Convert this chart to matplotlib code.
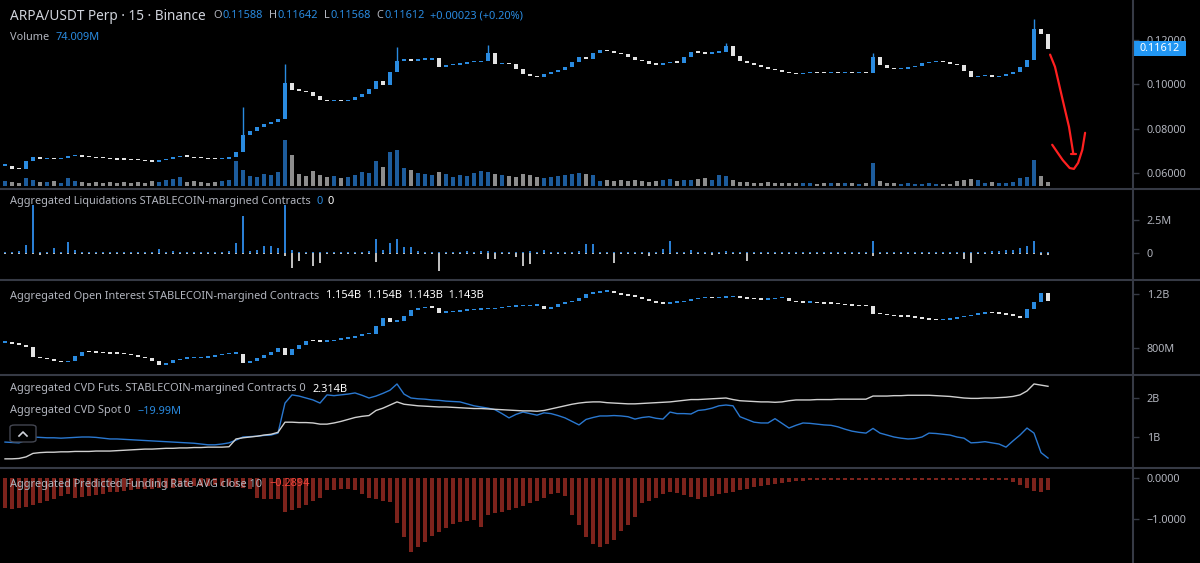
import matplotlib
matplotlib.use("Agg")
import matplotlib.pyplot as plt
import matplotlib.transforms as mtransforms
from matplotlib.patches import FancyBboxPatch, Rectangle
from matplotlib.lines import Line2D
import numpy as np

plt.rcParams['font.family'] = ['Noto Sans', 'DejaVu Sans']

# ---- data, one entry per bar ----
close = [
    0.0633, 0.0618, 0.0616, 0.0653, 0.0671, 0.0663, 0.0665, 0.0663, 0.0668, 0.0675,
    0.0681, 0.0673, 0.0671, 0.0668, 0.0665, 0.0661, 0.0660, 0.0659, 0.0658, 0.0656,
    0.0653, 0.0651, 0.0658, 0.0663, 0.0671, 0.0675, 0.0673, 0.0668, 0.0667, 0.0663,
    0.0661, 0.0663, 0.0673, 0.0693, 0.0773, 0.0788, 0.0808, 0.0823, 0.0831, 0.0843,
    0.1006, 0.0976, 0.0971, 0.0966, 0.0946, 0.0929, 0.0923, 0.0926, 0.0923, 0.0931,
    0.0943, 0.0956, 0.0981, 0.1016, 0.0996, 0.1056, 0.1106, 0.1116, 0.1106, 0.1111,
    0.1111, 0.1119, 0.1079, 0.1086, 0.1089, 0.1093, 0.1099, 0.1101, 0.1106, 0.1141,
    0.1091, 0.1096, 0.1091, 0.1071, 0.1046, 0.1036, 0.1031, 0.1046, 0.1056, 0.1066,
    0.1079, 0.1101, 0.1121, 0.1116, 0.1141, 0.1156, 0.1151, 0.1143, 0.1136, 0.1121,
    0.1111, 0.1103, 0.1093, 0.1089, 0.1096, 0.1101, 0.1097, 0.1121, 0.1146, 0.1143,
    0.1139, 0.1143, 0.1146, 0.1171, 0.1126, 0.1106, 0.1096, 0.1086, 0.1079, 0.1069,
    0.1063, 0.1056, 0.1049, 0.1046, 0.1051, 0.1053, 0.1051, 0.1049, 0.1053, 0.1051,
    0.1053, 0.1051, 0.1053, 0.1051, 0.1121, 0.1086, 0.1073, 0.1069, 0.1071, 0.1076,
    0.1081, 0.1096, 0.1099, 0.1101, 0.1099, 0.1093, 0.1086, 0.1061, 0.1031, 0.1036,
    0.1041, 0.1033, 0.1039, 0.1046, 0.1056, 0.1076, 0.1111, 0.1250, 0.1225, 0.1161,
]
spike_bar = [34, 40, 56, 69, 103, 124, 147]
spike_high = [0.0899, 0.1093, 0.1170, 0.1179, 0.1188, 0.1143, 0.1296]

volume = [  # millions
    90, 70, 60, 150, 120, 80, 70, 90, 60, 140,
    100, 70, 60, 80, 60, 70, 60, 80, 60, 70,
    60, 90, 70, 110, 130, 170, 80, 90, 70, 60,
    80, 90, 110, 460, 300, 180, 170, 230, 200, 260,
    850, 570, 230, 190, 280, 200, 160, 180, 150, 170,
    200, 260, 240, 460, 350, 630, 670, 340, 300, 240,
    220, 200, 260, 220, 170, 200, 180, 240, 280, 260,
    230, 200, 180, 170, 230, 210, 160, 150, 170, 180,
    200, 220, 240, 220, 200, 100, 120, 90, 110, 100,
    120, 90, 80, 100, 110, 130, 90, 110, 120, 130,
    150, 110, 200, 180, 120, 80, 70, 60, 60, 70,
    50, 60, 50, 55, 60, 50, 45, 55, 50, 60,
    55, 50, 45, 60, 430, 90, 60, 50, 45, 50,
    40, 45, 50, 45, 40, 45, 100, 120, 130, 110,
    60, 70, 55, 60, 75, 150, 160, 480, 190, 74,
]

liq_long = [  # millions
    0.08, 0.08, 0.17, 0.6, 3.65, 0.08, 0.04, 0.38, 0.08, 0.85,
    0.26, 0.04, 0.08, 0.04, 0.08, 0.04, 0.04, 0.08, 0.04, 0.04,
    0.08, 0.04, 0.3, 0.08, 0.17, 0.08, 0.04, 0.08, 0.04, 0.04,
    0.08, 0.04, 0.17, 0.77, 2.8, 0.17, 0.26, 0.51, 0.51, 0.34,
    3.65, 0.26, 0.08, 0.04, 0.08, 0.04, 0.08, 0.04, 0.08, 0.08,
    0.04, 0.08, 0.17, 1.06, 0.26, 0.77, 1.06, 0.43, 0.43, 0.17,
    0.08, 0.08, 0.04, 0.08, 0.08, 0.08, 0.17, 0.08, 0.17, 0.17,
    0.08, 0.04, 0.08, 0.04, 0.08, 0.13, 0.08, 0.26, 0.08, 0.08,
    0.08, 0.08, 0.17, 0.68, 0.68, 0.08, 0.04, 0.08, 0.08, 0.04,
    0.08, 0.08, 0.04, 0.08, 0.3, 0.9, 0.08, 0.08, 0.26, 0.08,
    0.04, 0.08, 0.08, 0.17, 0.08, 0.04, 0.04, 0.08, 0.04, 0.04,
    0.08, 0.04, 0.08, 0.04, 0.08, 0.04, 0.08, 0.04, 0.08, 0.04,
    0.08, 0.04, 0.08, 0.04, 0.9, 0.04, 0.04, 0.08, 0.04, 0.04,
    0.08, 0.04, 0.08, 0.04, 0.04, 0.08, 0.04, 0.04, 0.08, 0.04,
    0.08, 0.13, 0.17, 0.26, 0.26, 0.34, 0.51, 0.9, 0.08, 0.04,
]
liq_short = [  # millions, drawn below zero
    0.04, 0.08, 0.04, 0.04, 0.08, 0.17, 0.04, 0.04, 0.08, 0.04,
    0.04, 0.08, 0.04, 0.04, 0.04, 0.08, 0.04, 0.04, 0.04, 0.04,
    0.08, 0.04, 0.04, 0.08, 0.04, 0.04, 0.04, 0.08, 0.04, 0.04,
    0.04, 0.08, 0.04, 0.08, 0.04, 0.04, 0.08, 0.04, 0.04, 0.08,
    0.26, 1.15, 0.6, 0.08, 1.02, 0.77, 0.08, 0.04, 0.08, 0.04,
    0.08, 0.04, 0.08, 0.68, 0.08, 0.04, 0.08, 0.04, 0.08, 0.04,
    0.08, 0.04, 1.36, 0.08, 0.04, 0.08, 0.04, 0.08, 0.08, 0.43,
    0.43, 0.08, 0.04, 0.34, 1.02, 0.85, 0.08, 0.04, 0.08, 0.04,
    0.08, 0.04, 0.08, 0.04, 0.08, 0.04, 0.08, 0.77, 0.08, 0.04,
    0.08, 0.04, 0.26, 0.04, 0.08, 0.04, 0.08, 0.04, 0.08, 0.04,
    0.08, 0.17, 0.04, 0.08, 0.04, 0.08, 0.6, 0.04, 0.08, 0.04,
    0.08, 0.04, 0.08, 0.04, 0.08, 0.04, 0.08, 0.04, 0.08, 0.04,
    0.08, 0.04, 0.08, 0.04, 0.26, 0.04, 0.08, 0.04, 0.08, 0.04,
    0.08, 0.04, 0.08, 0.04, 0.08, 0.04, 0.08, 0.43, 0.77, 0.08,
    0.04, 0.08, 0.04, 0.08, 0.04, 0.08, 0.04, 0.08, 0.17, 0.17,
]

oi = [  # millions
    837, 830, 822, 807, 735, 725, 715, 705, 695, 700,
    740, 770, 768, 765, 762, 758, 756, 752, 745, 735,
    725, 700, 675, 690, 710, 720, 722, 725, 726, 735,
    745, 752, 756, 758, 685, 700, 725, 745, 770, 800,
    750, 790, 820, 855, 850, 845, 850, 860, 868, 875,
    885, 900, 905, 960, 1020, 995, 1000, 1040, 1080, 1095,
    1100, 1098, 1062, 1065, 1070, 1075, 1080, 1082, 1085, 1088,
    1095, 1100, 1105, 1108, 1108, 1112, 1112, 1090, 1105, 1125,
    1140, 1150, 1170, 1200, 1210, 1215, 1218, 1210, 1195, 1185,
    1178, 1165, 1150, 1135, 1128, 1135, 1140, 1150, 1160, 1168,
    1172, 1170, 1172, 1176, 1180, 1172, 1165, 1160, 1156, 1162,
    1168, 1170, 1150, 1138, 1135, 1135, 1130, 1128, 1126, 1122,
    1118, 1112, 1110, 1108, 1055, 1048, 1042, 1036, 1032, 1030,
    1025, 1015, 1008, 1006, 1010, 1018, 1028, 1035, 1045, 1055,
    1060, 1058, 1052, 1046, 1038, 1022, 1090, 1140, 1205, 1150,
]

cvd_futs = [  # billions
    0.44, 0.44, 0.45, 0.49, 0.58, 0.60, 0.61, 0.61, 0.62, 0.62,
    0.63, 0.63, 0.63, 0.64, 0.64, 0.64, 0.65, 0.66, 0.67, 0.68,
    0.69, 0.69, 0.70, 0.71, 0.71, 0.72, 0.72, 0.73, 0.73, 0.74,
    0.74, 0.74, 0.75, 0.95, 0.98, 1.00, 1.02, 1.05, 1.07, 1.12,
    1.38, 1.38, 1.37, 1.37, 1.36, 1.33, 1.33, 1.36, 1.40, 1.45,
    1.50, 1.53, 1.55, 1.68, 1.74, 1.82, 1.90, 1.84, 1.82, 1.80,
    1.79, 1.78, 1.77, 1.77, 1.76, 1.75, 1.74, 1.73, 1.73, 1.72,
    1.71, 1.70, 1.69, 1.68, 1.67, 1.67, 1.66, 1.68, 1.72, 1.76,
    1.80, 1.84, 1.87, 1.89, 1.90, 1.90, 1.88, 1.87, 1.86, 1.85,
    1.85, 1.86, 1.87, 1.88, 1.89, 1.90, 1.92, 1.94, 1.96, 1.96,
    1.97, 1.98, 1.99, 2.00, 1.96, 1.93, 1.92, 1.91, 1.90, 1.90,
    1.89, 1.90, 1.93, 1.95, 1.95, 1.95, 1.96, 1.96, 1.96, 1.97,
    1.97, 1.97, 1.97, 1.97, 2.05, 2.05, 2.05, 2.06, 2.06, 2.07,
    2.07, 2.07, 2.07, 2.06, 2.05, 2.04, 2.02, 2.00, 1.99, 1.99,
    2.00, 2.00, 2.01, 2.02, 2.04, 2.08, 2.18, 2.36, 2.33, 2.30,
]
cvd_spot = [  # position on the pane scale
    0.87, 0.86, 0.85, 0.92, 1.00, 0.99, 0.98, 0.98, 0.97, 0.98,
    0.99, 1.00, 1.00, 0.99, 0.97, 0.95, 0.95, 0.94, 0.93, 0.92,
    0.91, 0.90, 0.89, 0.88, 0.87, 0.86, 0.85, 0.84, 0.82, 0.80,
    0.80, 0.82, 0.85, 0.92, 1.00, 1.01, 1.02, 1.04, 1.05, 1.10,
    1.87, 2.08, 2.05, 2.00, 1.95, 1.87, 2.08, 2.06, 2.08, 2.10,
    2.13, 2.07, 2.00, 2.05, 2.12, 2.20, 2.36, 2.10, 2.00, 1.98,
    1.97, 1.95, 1.94, 1.92, 1.91, 1.90, 1.85, 1.80, 1.77, 1.74,
    1.70, 1.60, 1.49, 1.58, 1.64, 1.60, 1.56, 1.62, 1.60, 1.55,
    1.49, 1.40, 1.31, 1.45, 1.50, 1.54, 1.54, 1.55, 1.54, 1.52,
    1.46, 1.50, 1.52, 1.48, 1.46, 1.64, 1.60, 1.60, 1.59, 1.68,
    1.70, 1.74, 1.80, 1.82, 1.80, 1.52, 1.45, 1.38, 1.36, 1.36,
    1.47, 1.35, 1.23, 1.30, 1.36, 1.35, 1.33, 1.31, 1.30, 1.26,
    1.20, 1.15, 1.12, 1.10, 1.22, 1.10, 1.05, 1.00, 0.97, 0.95,
    0.96, 1.00, 1.10, 1.09, 1.07, 1.05, 1.00, 0.97, 0.85, 0.86,
    0.88, 0.85, 0.82, 0.74, 0.90, 1.05, 1.23, 1.10, 0.60, 0.46,
]

funding = [
    -0.73, -0.76, -0.74, -0.70, -0.65, -0.61, -0.56, -0.50, -0.44, -0.38,
    -0.49, -0.46, -0.43, -0.41, -0.38, -0.35, -0.33, -0.31, -0.29, -0.28,
    -0.27, -0.26, -0.25, -0.24, -0.24, -0.22, -0.21, -0.20, -0.19, -0.19,
    -0.18, -0.19, -0.20, -0.22, -0.24, -0.26, -0.49, -0.50, -0.50, -0.51,
    -0.83, -0.78, -0.72, -0.66, -0.55, -0.48, -0.30, -0.29, -0.28, -0.28,
    -0.29, -0.38, -0.48, -0.52, -0.55, -0.58, -1.10, -1.45, -1.80, -1.68,
    -1.55, -1.42, -1.32, -1.22, -1.12, -1.07, -1.05, -1.02, -1.20, -0.90,
    -0.86, -0.82, -0.78, -0.73, -0.68, -0.62, -0.55, -0.48, -0.40, -0.37,
    -0.45, -0.90, -1.15, -1.45, -1.62, -1.68, -1.60, -1.50, -1.30, -1.15,
    -0.95, -0.62, -0.55, -0.48, -0.40, -0.34, -0.37, -0.41, -0.46, -0.50,
    -0.47, -0.43, -0.40, -0.37, -0.33, -0.29, -0.26, -0.23, -0.20, -0.16,
    -0.14, -0.12, -0.10, -0.08, -0.07, -0.05, -0.05, -0.06, -0.05, -0.05,
    -0.04, -0.05, -0.05, -0.06, -0.05, -0.05, -0.04, -0.05, -0.05, -0.06,
    -0.05, -0.05, -0.04, -0.05, -0.05, -0.05, -0.06, -0.05, -0.05, -0.04,
    -0.05, -0.05, -0.05, -0.06, -0.10, -0.16, -0.24, -0.32, -0.34, -0.29,
]

# hand drawn red arrow (bar position, price)
arrow_x = [149.3, 150.0, 151.1, 152.0, 152.6]
arrow_p = [0.1134, 0.1079, 0.0929, 0.0808, 0.0690]
arrow_tip_x = [152.3, 153.0]
arrow_tip_p = [0.0686, 0.0686]
hook_x = [149.6, 150.4, 151.1, 152.1, 152.7, 153.3, 153.9, 154.3]
hook_p = [0.0727, 0.0690, 0.0658, 0.0622, 0.0618, 0.0645, 0.0704, 0.0781]

last_price = 0.11612

# ---- styling ----
W, H = 1200, 563
AXR = 1133
LINE = "#363a45"
TXT = "#b2b5be"
BLUE = "#2a8be0"
WHITE = "#e3e3e3"

fig = plt.figure(figsize=(W / 100, H / 100), dpi=100, facecolor="black")
x = np.arange(len(close))
XLIM = (-5 / 7, (AXR - 5) / 7)


def pane(top, bottom, ylim, ticks, labels):
    ax = fig.add_axes([0, 1 - bottom / H, AXR / W, (bottom - top) / H])
    ax.set_facecolor("none")
    ax.set_xlim(*XLIM)
    ax.set_ylim(*ylim)
    for s in ax.spines.values():
        s.set_visible(False)
    ax.set_xticks([])
    ax.yaxis.tick_right()
    ax.tick_params(axis="y", length=4, width=1, color=LINE, labelcolor=TXT,
                   labelsize=7.8, pad=6)
    ax.set_yticks(ticks)
    ax.set_yticklabels(labels)
    return ax


def candles(ax, vals, minh, width):
    c = np.array(vals, dtype=float)
    o = np.r_[c[0], c[:-1]]
    up = c >= o
    lo = np.minimum(o, c)
    h = np.maximum(np.abs(c - o), minh)
    ax.bar(x, h, bottom=lo, width=width, color=np.where(up, BLUE, WHITE),
           linewidth=0, zorder=3)
    return up, lo + h


# volume sits behind the price candles
axv = fig.add_axes([0, 1 - 186 / H, AXR / W, 186 / H])
axv.set_facecolor("none")
axv.axis("off")
axv.set_xlim(*XLIM)
axv.set_ylim(0, 18.5 * 186)

ax = pane(0, 188, (0.05318, 0.13806), [0.06, 0.08, 0.10, 0.12],
          ["0.06000", "0.08000", "0.10000", "0.12000"])
up, top = candles(ax, close, 0.0006, 0.7)
axv.bar(x, volume, width=0.45, color=np.where(up, "#1d5c9c", "#8d8d8d"), linewidth=0)
for b, hh in zip(spike_bar, spike_high):
    ax.vlines(b, top[b], hh, color=BLUE if up[b] else WHITE, lw=1, zorder=3)
red = dict(color="#ff2020", lw=1.6, zorder=5, solid_capstyle="round")
ax.plot(arrow_x, arrow_p, **red)
ax.plot(arrow_tip_x, arrow_tip_p, **red)
ax.plot(hook_x, hook_p, **red)

# last price tag on the scale
blend = mtransforms.blended_transform_factory(ax.transAxes, ax.transData)
tag_h = 15 / 188 * (0.13806 - 0.05318)
ax.add_patch(Rectangle((1.0, last_price - tag_h / 2), 53 / AXR, tag_h, transform=blend,
                       fc="#2196f3", ec="none", clip_on=False, zorder=10))
ax.text(1.0 + 26.5 / AXR, last_price, f"{last_price:.5f}", transform=blend, ha="center",
        va="center", color="white", fontsize=7.8, zorder=11, clip_on=False)

axl = pane(190, 279, (-1.97, 4.77), [0, 2.5], ["0", "2.5M"])
axl.bar(x, liq_long, width=0.3, color="#2a7fd4", linewidth=0)
axl.bar(x, -np.array(liq_short), width=0.3, color="#bdbdbd", linewidth=0)

axo = pane(281, 374, (607, 1296), [800, 1200], ["800M", "1.2B"])
candles(axo, oi, 11, 0.7)

axc = pane(376, 467, (0.231, 2.564), [1, 2], ["1B", "2B"])
axc.plot(x, cvd_spot, color="#2a78d0", lw=1.0)
axc.plot(x, cvd_futs, color="#d0d0d0", lw=1.0)

axf = pane(469, 563, (-2.073, 0.22), [0, -1], ["0.0000", "\u22121.0000"])
axf.bar(x, funding, width=0.45, color="#7d231c", linewidth=0)

# pane separators and price scale border
for yy in [189, 280, 375, 468]:
    fig.add_artist(Line2D([0, 1], [1 - yy / H] * 2, color=LINE, lw=1.5))
fig.add_artist(Line2D([AXR / W] * 2, [0, 1], color=LINE, lw=1.5))

# legends
rend = fig.canvas.get_renderer()


def legend(x0, y, parts, size=7.9):
    for s, c, gap, fs in parts:
        t = fig.text(x0 / W, 1 - y / H, s, color=c, fontsize=fs or size, ha="left", va="center")
        x0 = t.get_window_extent(renderer=rend).x1 + gap


legend(10, 16, [("ARPA/USDT Perp \u00b7 15 \u00b7 Binance", "#d1d4dc", 8, 9.8),
                ("O", TXT, 0.5, None), ("0.11588", BLUE, 6, None),
                ("H", TXT, 0.5, None), ("0.11642", BLUE, 6, None),
                ("L", TXT, 0.5, None), ("0.11568", BLUE, 6, None),
                ("C", TXT, 0.5, None), ("0.11612", BLUE, 6, None),
                ("+0.00023 (+0.20%)", BLUE, 0, None)])
legend(10, 37, [("Volume", TXT, 6, None), ("74.009M", BLUE, 0, None)])
legend(10, 202, [("Aggregated Liquidations STABLECOIN-margined Contracts", TXT, 6, None),
                 ("0", BLUE, 4, None), ("0", "white", 0, None)])
legend(10, 296, [("Aggregated Open Interest STABLECOIN-margined Contracts", TXT, 7, None),
                 ("1.154B  1.154B  1.143B  1.143B", "white", 0, None)])
legend(10, 389, [("Aggregated CVD Futs. STABLECOIN-margined Contracts 0", TXT, 7, None),
                 ("2.314B", "white", 0, None)])
legend(10, 411, [("Aggregated CVD Spot 0", TXT, 7, None), ("\u221219.99M", BLUE, 0, None)])
legend(10, 484, [("Aggregated Predicted Funding Rate AVG close 10", TXT, 7, None),
                 ("\u22120.2894", "#f0433a", 0, None)])

# collapse button
fig.add_artist(FancyBboxPatch((10 / W, 1 - 442 / H), 26 / W, 17 / H,
                              boxstyle="round,pad=0,rounding_size=0.004",
                              transform=fig.transFigure, fc="black", ec="#434651", lw=1))
fig.add_artist(Line2D([19 / W, 23 / W, 27 / W], [1 - 436 / H, 1 - 432 / H, 1 - 436 / H],
                      color="#d1d4dc", lw=1.2))

fig.savefig("out.png", dpi=100, facecolor="black")
